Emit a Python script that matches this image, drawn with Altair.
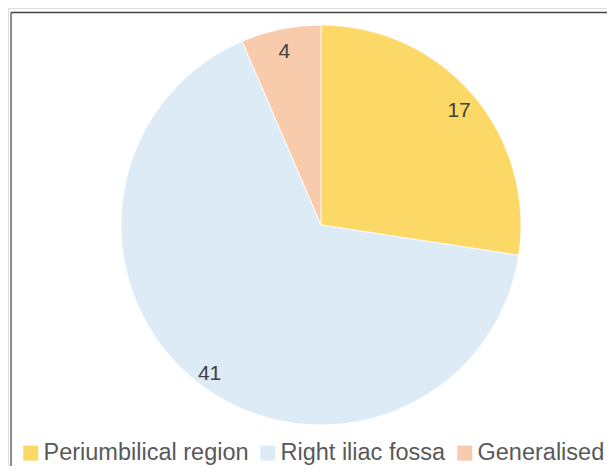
import altair as alt
import pandas as pd

categories = ["Periumbilical region", "Right iliac fossa", "Generalised"]
counts = [17, 41, 4]
order = [0, 1, 2]
colors = ["#FCD867", "#DDEBF7", "#F8CBAD"]

df = pd.DataFrame({"site": categories, "count": counts, "order": order})

W, H = 599, 458
CX, CY = 313, 217

base = alt.Chart(df).encode(
    theta=alt.Theta("count:Q", stack=True),
    order=alt.Order("order:Q"),
)

arcs = base.mark_arc(outerRadius=200, stroke="white", strokeWidth=0.8).encode(
    x=alt.value(CX),
    y=alt.value(CY),
    color=alt.Color(
        "site:N",
        scale=alt.Scale(domain=categories, range=colors),
        sort=categories,
        legend=alt.Legend(
            title=None,
            orient="none",
            direction="horizontal",
            legendX=11,
            legendY=433,
            padding=0,
            symbolType="square",
            symbolSize=225,
            symbolStrokeWidth=0,
            symbolOpacity=1,
            labelFontSize=23.5,
            labelFont="Liberation Sans",
            labelColor="#595959",
            labelOffset=1,
            columnPadding=7,
            labelLimit=400,
        ),
    ),
)

labels = base.mark_text(
    radius=182, dy=5, fontSize=21, font="Liberation Sans", color="#404040"
).encode(
    x=alt.value(CX),
    y=alt.value(CY),
    text=alt.Text("count:Q"),
)

frame_data = alt.Data(values=[{"k": 1}])
left_line = alt.Chart(frame_data).mark_rule(color="#666666", strokeWidth=1.5).encode(
    x=alt.value(3), y=alt.value(4.5), y2=alt.value(H)
)
top_line = alt.Chart(frame_data).mark_rule(color="#444444", strokeWidth=1.5).encode(
    x=alt.value(3), x2=alt.value(W), y=alt.value(4.5)
)

chart = (
    alt.layer(arcs, labels, left_line, top_line)
    .properties(width=W, height=H, padding=0, autosize=alt.AutoSizeParams(type="none"))
    .configure_view(stroke=None)
    .configure(background="white")
)

chart.save("out.html", embed_options={"renderer": "svg", "actions": False})
